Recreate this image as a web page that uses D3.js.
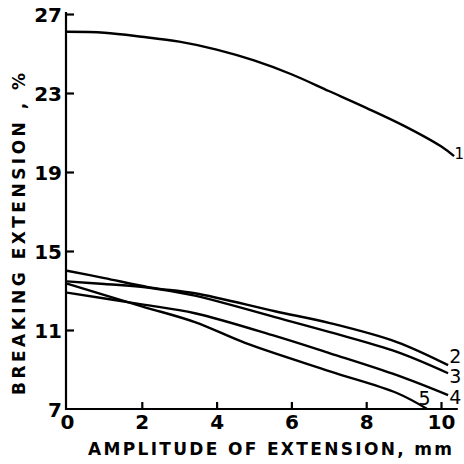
<!DOCTYPE html>
<html><head><meta charset="utf-8">
<script src="https://cdn.jsdelivr.net/npm/d3@7"></script>
<style>body{margin:0;background:#fff}svg{display:block}text{font-family:"DejaVu Sans",sans-serif;fill:#000}</style>
</head><body>
<svg id="c" width="464" height="464"></svg>
<script>
const xTicks = [0, 2, 4, 6, 8, 10];
const yTicks = [7, 11, 15, 19, 23, 27];
const curveNames = ["1", "2", "3", "4", "5"];
const c1x = [0, 1, 2, 3, 4, 5, 6, 7, 8, 9, 10, 10.35];
const c1y = [26.1, 26.05, 25.85, 25.6, 25.2, 24.65, 23.95, 23.1, 22.25, 21.35, 20.3, 19.8];
const c2x = [0, 1, 2.2, 3.42, 5.56, 7.03, 8.82, 10.19];
const c2y = [14.0, 13.63, 13.16, 12.86, 11.95, 11.35, 10.39, 9.22];
const c3x = [0, 1, 2.2, 3.42, 5.56, 7.03, 8.82, 10.19];
const c3y = [13.46, 13.33, 13.14, 12.74, 11.65, 10.89, 9.89, 8.81];
const c4x = [0, 2, 3.42, 5.56, 7.03, 8.82, 10.19];
const c4y = [12.89, 12.3, 11.85, 10.7, 9.82, 8.71, 7.7];
const c5x = [0, 2, 3.42, 4.76, 7.03, 8.82, 9.63];
const c5y = [13.35, 12.2, 11.4, 10.35, 8.91, 7.81, 7.0];
const labelX = [10.36, 10.22, 10.22, 10.22, 9.4];
const labelY = [19.9, 9.65, 8.65, 7.6, 7.55];

const svg = d3.select("#c");
const x = d3.scaleLinear().domain([0, 10]).range([67, 441]);
const y = d3.scaleLinear().domain([7, 27]).range([409, 14]);
const tickFont = "'DejaVu Sans Condensed','DejaVu Sans',sans-serif";

// axes
const xAxis = svg.append("g").attr("transform", "translate(0,409)")
  .call(d3.axisBottom(x).tickValues(xTicks).tickSize(-7).tickPadding(6).tickFormat(d3.format("d")));
xAxis.select(".domain").attr("d", `M${x(-0.05)},0H${x(10.45)}`);
const yAxis = svg.append("g").attr("transform", "translate(66,0)")
  .call(d3.axisLeft(y).tickValues(yTicks).tickSize(-8).tickPadding(4).tickFormat(d3.format("d")));
yAxis.select(".domain").attr("d", `M0,${y(6.95)}V${y(27.1)}`);
[xAxis, yAxis].forEach(g => {
  g.selectAll("path,line").attr("stroke", "#000").attr("stroke-width", 2.2);
  g.selectAll("text").attr("font-size", 20).attr("font-weight", "bold")
   .attr("font-family", tickFont).attr("fill", "#000");
});
yAxis.selectAll(".tick").filter(d => d === 7).select("line").remove();
xAxis.selectAll(".tick").filter(d => d === 0).select("line").remove();
yAxis.selectAll("text").attr("dy", "0.35em");

// curves
const series = [[c1x, c1y], [c2x, c2y], [c3x, c3y], [c4x, c4y], [c5x, c5y]];
const line = d3.line().x(d => x(d[0])).y(d => y(d[1])).curve(d3.curveCatmullRom.alpha(0.5));
series.forEach(([xs, ys]) => {
  svg.append("path").datum(xs.map((v, i) => [v, ys[i]]))
    .attr("d", line).attr("fill", "none").attr("stroke", "#000").attr("stroke-width", 2.4);
});
svg.selectAll(".clab").data(curveNames).join("text")
  .attr("x", (d, i) => x(labelX[i])).attr("y", (d, i) => y(labelY[i]))
  .attr("font-size", (d, i) => i === 0 ? 15 : 19).attr("dy", "0.35em")
  .attr("font-family", tickFont)
  .text(d => d);

// titles
svg.append("text").attr("x", 88).attr("y", 455)
  .attr("font-size", 17).attr("font-weight", "bold").attr("textLength", 364).attr("lengthAdjust", "spacing")
  .attr("font-family", tickFont)
  .text("AMPLITUDE  OF EXTENSION, mm");
svg.append("text").attr("transform", "translate(25,395) rotate(-90)")
  .attr("font-size", 17).attr("font-weight", "bold").attr("textLength", 322).attr("lengthAdjust", "spacing")
  .attr("font-family", tickFont)
  .text("BREAKING  EXTENSION , %");
</script>
</body></html>
